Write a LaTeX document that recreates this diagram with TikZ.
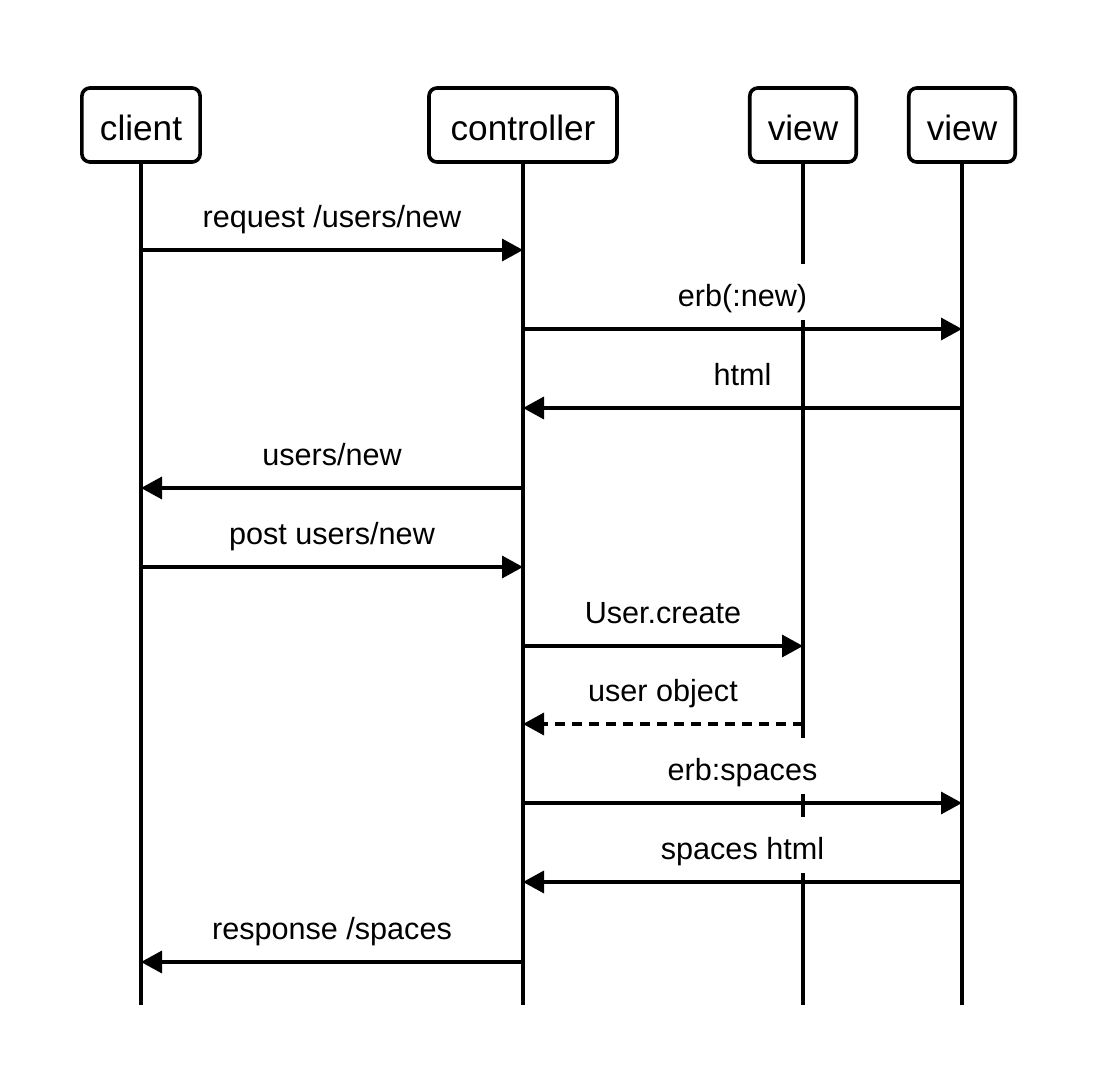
\documentclass[tikz,border=0pt]{standalone}
\usepackage{fontspec}
\setmainfont{Liberation Sans}
\usetikzlibrary{arrows.meta}
\tikzset{
  head/.style={draw, line width=1.8pt, rounded corners=4pt, minimum height=37pt,
    inner xsep=9pt, text height=15.5pt, text depth=0pt,
    font=\fontsize{17.6}{20}\selectfont},
  life/.style={line width=1.7pt},
  msg/.style={line width=1.7pt, -{Triangle[length=10.5pt,width=11pt]}},
  reply/.style={msg, dash pattern=on 5pt off 3.5pt},
  lbl/.style={midway, above=3.5pt, fill=white, inner xsep=2pt, inner ysep=6.75pt,
    text height=14.5pt, text depth=0pt, font=\fontsize{15.3}{18}\selectfont}
}
\begin{document}
\begin{tikzpicture}[x=0.5pt, y=-0.5pt]
  \useasboundingbox (0,0) rectangle (1100,1092);

  % --- participants ---
  \node[head] (client) at (141,125) {client};
  \node[head, minimum width=94pt] (ctrl) at (523,125) {controller};
  \node[head] (viewa) at (803,125) {view};
  \node[head] (viewb) at (962,125) {view};

  % --- lifelines ---
  \foreach \p in {client,ctrl,viewa,viewb} {
    \coordinate (\p-end) at (\p |- 0,1005);
    \draw[life] (\p.south) -- (\p-end);
  }

  % --- messages ---
  \foreach \from/\to/\y/\txt in {
      client/ctrl/250/{request /users/new},
      ctrl/viewb/329/{erb(:new)},
      viewb/ctrl/408/{html},
      ctrl/client/488/{users/new},
      client/ctrl/567/{post users/new},
      ctrl/viewa/646/{User.create},
      ctrl/viewb/803/{erb:spaces},
      viewb/ctrl/882/{spaces html},
      ctrl/client/962/{response /spaces}}
    \draw[msg] (\from |- 0,\y) -- node[lbl] {\txt} (\to |- 0,\y);

  % return value
  \draw[reply] (viewa |- 0,724) -- node[lbl] {user object} (ctrl |- 0,724);
\end{tikzpicture}
\end{document}
